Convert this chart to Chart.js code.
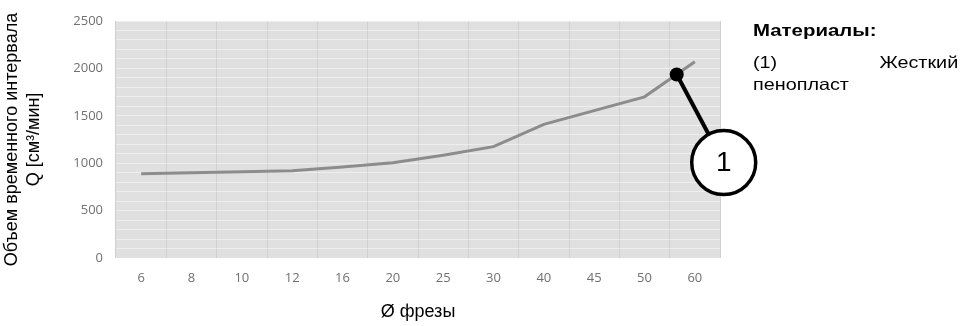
<!DOCTYPE html>
<html lang="ru">
<head>
    <meta charset="UTF-8">
    <title>Объем временного интервала</title>
    <style>
        body { margin: 0; background: #fff; }
        .wrap { position: relative; width: 962px; height: 326px; }
        #chart { position: absolute; left: 0; top: 0; }
        .legend {
            position: absolute; left: 753px; top: 21px; width: 171px;
            font-family: "Liberation Sans", Arial, sans-serif; font-size: 16.5px; color: #000;
            transform: scaleX(1.2); transform-origin: left top;
        }
        .legend h4 { margin: 0 0 10px 0; font-size: 17px; font-weight: bold; }
        .legend .row { display: flex; justify-content: space-between; line-height: 22px; }
        .legend .line { line-height: 22px; }
    </style>
</head>
<body>
<div class="wrap">
    <canvas id="chart" width="962" height="326"></canvas>
    <div class="legend">
        <h4>Материалы:</h4>
        <div class="row"><span>(1)</span><span>Жесткий</span></div>
        <div class="line">пенопласт</div>
    </div>
</div>

<script src="https://cdn.jsdelivr.net/npm/chart.js"></script>
<script>
// diameters of the cutter (x categories)
const diameters = ['6', '8', '10', '12', '16', '20', '25', '30', '40', '45', '50', '60'];
// volume per time interval, cm3/min
const volumes = [890, 900, 910, 920, 960, 1005, 1085, 1175, 1410, 1555, 1700, 2070];
const yTicks = [0, 500, 1000, 1500, 2000, 2500];
// callout marker sits on the line between "50" and "60"
const calloutIndex = 10;
const calloutFrac = 0.64;
const calloutValue = 1935;
const calloutLabel = '1';

const plotBg = {
    id: 'plotBg',
    beforeDraw(chart) {
        const { ctx, chartArea: a } = chart;
        ctx.save();
        ctx.fillStyle = '#e0e0e0';
        ctx.fillRect(a.left, a.top, a.right - a.left, a.bottom - a.top);
        ctx.restore();
    }
};

const callout = {
    id: 'callout',
    afterDraw(chart) {
        const { ctx } = chart;
        const xs = chart.scales.x, ys = chart.scales.y;
        const x0 = xs.getPixelForValue(calloutIndex);
        const x1 = xs.getPixelForValue(calloutIndex + 1);
        const px = x0 + (x1 - x0) * calloutFrac;
        const py = ys.getPixelForValue(calloutValue);
        const cx = px + 47, cy = py + 88, r = 32;
        ctx.save();
        ctx.strokeStyle = '#000';
        ctx.lineWidth = 4;
        ctx.beginPath();
        ctx.moveTo(px, py);
        ctx.lineTo(cx, cy);
        ctx.stroke();
        ctx.beginPath();
        ctx.arc(cx, cy, r, 0, Math.PI * 2);
        ctx.fillStyle = '#fff';
        ctx.fill();
        ctx.lineWidth = 3.5;
        ctx.stroke();
        ctx.beginPath();
        ctx.arc(px, py, 7, 0, Math.PI * 2);
        ctx.fillStyle = '#000';
        ctx.fill();
        ctx.font = '28px "Liberation Sans", Arial, sans-serif';
        ctx.textAlign = 'center';
        ctx.textBaseline = 'middle';
        ctx.fillText(calloutLabel, cx, cy + 1);
        ctx.restore();
    }
};

const tickFont = { family: '"Open Sans", sans-serif', size: 13 };

new Chart(document.getElementById('chart'), {
    type: 'line',
    data: {
        labels: diameters,
        datasets: [{
            data: volumes,
            borderColor: '#8c8c8c',
            borderWidth: 3,
            pointRadius: 0,
            tension: 0
        }]
    },
    options: {
        responsive: false,
        animation: false,
        layout: { padding: { top: 21, right: 242, left: 0, bottom: 0 } },
        plugins: { legend: { display: false }, tooltip: { enabled: false } },
        scales: {
            x: {
                offset: true,
                grid: { offset: true, color: '#d0d0d0', drawTicks: false },
                border: { display: false },
                ticks: { color: '#707070', font: tickFont, padding: 12 },
                title: {
                    display: true,
                    text: 'Ø фрезы',
                    color: '#000',
                    font: { family: '"Liberation Sans", Arial, sans-serif', size: 18 },
                    padding: { top: 0, bottom: 3 }
                },
                afterFit(s) { s.height = 68; }
            },
            y: {
                min: 0,
                max: 2500,
                grid: { color: 'rgba(255,255,255,0.45)', drawTicks: false },
                border: { display: false },
                ticks: {
                    stepSize: 100,
                    autoSkip: false,
                    color: '#707070',
                    font: tickFont,
                    padding: 13,
                    callback: v => yTicks.includes(v) ? String(v) : ''
                },
                title: {
                    display: true,
                    text: ['Объем временного интервала', 'Q [см³/мин]'],
                    color: '#000',
                    font: { family: '"Liberation Sans", Arial, sans-serif', size: 18, lineHeight: 1.17 },
                    padding: { top: 2, bottom: 0 }
                },
                afterFit(s) { s.width = 116; }
            }
        }
    },
    plugins: [plotBg, callout]
});
</script>
</body>
</html>
